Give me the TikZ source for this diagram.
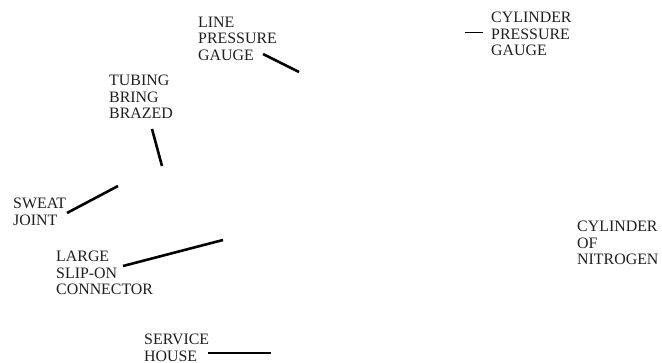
\documentclass[tikz,border=0pt]{standalone}
\usepackage{fontspec}
\setmainfont{Liberation Serif}
\begin{document}
\begin{tikzpicture}[x=1pt,y=-1pt,
  lbl/.style={anchor=north west,inner sep=0pt,align=left,text=black!88,
    font=\fontsize{15.9pt}{16.3pt}\selectfont},
  lead/.style={line width=2.6pt},
  thinlead/.style={line width=1pt},
  midlead/.style={line width=2pt}]
\useasboundingbox (0,0) rectangle (662,363);
\node[lbl] (lpg) at (198,17) {LINE\\PRESSURE\\GAUGE};
\node[lbl] (tbb) at (109,75) {TUBING\\BRING\\BRAZED};
\node[lbl] (sj) at (13,198) {SWEAT\\JOINT};
\node[lbl] (lsc) at (56,251) {LARGE\\SLIP-ON\\CONNECTOR};
\node[lbl] (sh) at (144,334) {SERVICE\\HOUSE};
\node[lbl] (cpg) at (491,12) {CYLINDER\\PRESSURE\\GAUGE};
\node[lbl] (con) at (577,221) {CYLINDER\\OF\\NITROGEN};
\coordinate (lpgA) at (263,54);  \coordinate (lpgB) at (299,72);
\coordinate (tbbA) at (152,129); \coordinate (tbbB) at (162,166);
\coordinate (sjA) at (67,213);   \coordinate (sjB) at (118,186);
\coordinate (lscA) at (123,266); \coordinate (lscB) at (223,240);
\coordinate (shA) at (208,353);  \coordinate (shB) at (271,353);
\coordinate (cpgA) at (465,33);  \coordinate (cpgB) at (483,33);
\draw[lead] (lpgA) -- (lpgB);
\draw[lead] (tbbA) -- (tbbB);
\draw[lead] (sjA) -- (sjB);
\draw[lead] (lscA) -- (lscB);
\draw[midlead] (shA) -- (shB);
\draw[thinlead] (cpgA) -- (cpgB);
\end{tikzpicture}
\end{document}
